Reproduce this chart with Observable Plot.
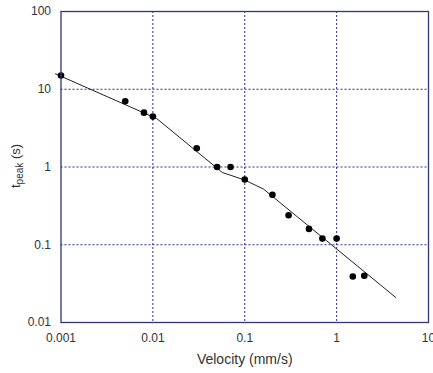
<!DOCTYPE html>
<html>
<head>
<meta charset="utf-8">
<script src="https://cdn.jsdelivr.net/npm/d3@7"></script>
<script src="https://cdn.jsdelivr.net/npm/@observablehq/plot@0.6"></script>
<style>
  html, body { margin: 0; padding: 0; background: #fff; overflow: hidden; }
  #chart svg { overflow: visible; }
</style>
</head>
<body>
<div id="chart"></div>
<script>
// Measured data points (velocity in mm/s, t_peak in s)
const velocity = [0.001, 0.005, 0.008, 0.01, 0.03, 0.05, 0.07, 0.1, 0.2, 0.3, 0.5, 0.7, 1, 1.5, 2];
const tpeak    = [15, 7.0, 5.0, 4.45, 1.74, 1.0, 1.0, 0.69, 0.44, 0.24, 0.16, 0.12, 0.12, 0.039, 0.040];

// Fitted curve vertices
const fitVelocity = [0.00087, 0.011, 0.057, 0.1, 0.16, 4.4];
const fitTpeak    = [15.8, 4.2, 0.85, 0.68, 0.52, 0.021];

// Axis ticks
const xTicks = [0.001, 0.01, 0.1, 1, 10];
const xTickLabels = ["0.001", "0.01", "0.1", "1", "10"];
const yTicks = [0.01, 0.1, 1, 10, 100];
const yTickLabels = ["0.01", "0.1", "1", "10", "100"];

const points = velocity.map((v, i) => ({v, t: tpeak[i]}));
const fit = fitVelocity.map((v, i) => ({v, t: fitTpeak[i]}));

const gridColor = "#2e2e96";
const frameColor = "#34347a";
const textColor = "#333";

const chart = Plot.plot({
  width: 433,
  height: 373,
  marginLeft: 60.5,
  marginRight: 5,
  marginTop: 11,
  marginBottom: 51,
  style: {fontFamily: "'Liberation Sans', Arial, sans-serif", background: "#fff", color: textColor},
  x: {type: "log", domain: [0.001, 10]},
  y: {type: "log", domain: [0.01, 100]},
  marks: [
    Plot.ruleX(xTicks.slice(1, -1), {stroke: gridColor, strokeDasharray: "2,2", strokeWidth: 1}),
    Plot.ruleY(yTicks.slice(1, -1), {stroke: gridColor, strokeDasharray: "2,2", strokeWidth: 1}),
    Plot.axisX({ticks: xTicks, tickFormat: (d, i) => xTickLabels[xTicks.indexOf(d)], tickSize: 0, tickPadding: 11, fontSize: 12, label: null, fill: textColor}),
    Plot.axisY({ticks: yTicks, tickFormat: (d) => yTickLabels[yTicks.indexOf(d)], tickSize: 0, tickPadding: 10, fontSize: 12, label: null, fill: textColor}),
    Plot.line(fit, {x: "v", y: "t", stroke: "#222", strokeWidth: 1, clip: false}),
    Plot.dot(points, {x: "v", y: "t", r: 3.3, fill: "#000", stroke: "none"}),
    Plot.frame({stroke: frameColor, strokeWidth: 1.3}),
    Plot.text(["Velocity (mm/s)"], {frameAnchor: "bottom", dy: 41, fontSize: 14, fill: textColor, lineAnchor: "bottom"})
  ]
});

// y-axis title with subscript
const svg = d3.select(chart);
const yTitle = svg.append("text")
  .attr("transform", "translate(20,166) rotate(-90)")
  .attr("text-anchor", "middle")
  .attr("fill", textColor)
  .attr("font-size", 13)
  .attr("font-family", "'Liberation Sans', Arial, sans-serif");
yTitle.append("tspan").text("t");
yTitle.append("tspan").attr("font-size", 10).attr("dy", 3).text("peak");
yTitle.append("tspan").attr("dy", -3).text(" (s)");

document.getElementById("chart").appendChild(chart);
</script>
</body>
</html>
